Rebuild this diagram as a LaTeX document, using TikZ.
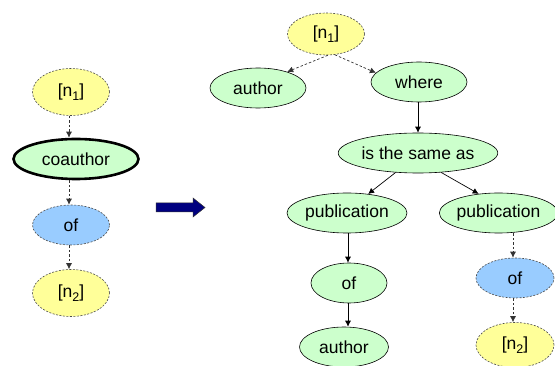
\documentclass[tikz,border=0pt]{standalone}
\usepackage{fontspec}
\setmainfont{Liberation Sans}
\usetikzlibrary{shapes.geometric,arrows.meta}
\definecolor{ylw}{HTML}{FFFF99}
\definecolor{grn}{HTML}{CCFFCC}
\definecolor{blu}{HTML}{99CCFF}
\definecolor{navyc}{HTML}{000080}
\newcommand{\subidx}[1]{\raisebox{-3.5pt}{\fontsize{12.5}{14}\selectfont #1}}
\tikzset{
  x=1pt,y=-1pt,
  every node/.style={font=\fontsize{17.5}{20}\selectfont},
  elbase/.style={ellipse,inner sep=0pt},
  yel/.style={elbase,fill=ylw,draw=black!70,dash pattern=on 2pt off 1.5pt,line width=0.6pt},
  blue/.style={elbase,fill=blu,draw=black!70,dash pattern=on 2pt off 1.5pt,line width=0.6pt},
  gr/.style={elbase,fill=grn,draw=black,line width=0.6pt},
  grthick/.style={elbase,fill=grn,draw=black,line width=2.6pt},
  sz/.style 2 args={minimum width=#1pt,minimum height=#2pt},
  solarr/.style={-{Latex[length=6pt,width=6pt]},line width=0.7pt,black},
  dasharr/.style={-{Latex[length=6pt,width=6pt]},line width=0.7pt,black!80,dash pattern=on 2.5pt off 2pt},
}
\begin{document}
\begin{tikzpicture}
\useasboundingbox (0,0) rectangle (555,366);
% left column
\node[yel,sz={77}{47}] (ln1) at (71,92) {[n\subidx{1}]};
\node[grthick,sz={125}{40}] (lco) at (76,159) {coauthor};
\node[blue,sz={77}{40}] (lof) at (71,225) {of};
\node[yel,sz={77}{47}] (ln2) at (71,293) {[n\subidx{2}]};
\draw[dasharr] (ln1.south -| 69,0) -- (lco.north -| 69,0);
\draw[dasharr] (lco.south -| 69,0) -- (lof.north -| 69,0);
\draw[dasharr] (lof.south -| 69,0) -- (ln2.north -| 69,0);
% block arrow
\fill[navyc,draw=black!80,line width=0.5pt] (156,203) -- (193,203) -- (193,198) -- (205,207.5) -- (193,217) -- (193,212) -- (156,212) -- cycle;
% right tree
\node[yel,sz={77}{42}] (rn1) at (326,34) {[n\subidx{1}]};
\node[gr,sz={96}{40}] (aut) at (258,88) {author};
\node[gr,sz={96}{40}] (whr) at (419,82) {where};
\node[gr,sz={142}{40}] (same) at (418,153) {is the same as};
\node[gr,sz={120}{40}] (publ) at (347,213) {publication};
\node[gr,sz={104}{40}] (pubr) at (498.5,213) {publication};
\node[gr,sz={76}{40}] (ofl) at (349,283) {of};
\node[gr,sz={89}{40}] (autb) at (344,347) {author};
\node[blue,sz={78}{40}] (ofr) at (515,278) {of};
\node[yel,sz={78}{45}] (rn2) at (515,345) {[n\subidx{2}]};
\draw[dasharr] (rn1.-85) -- (aut.29);
\draw[dasharr] (rn1.-67) -- (whr.168);
\draw[solarr] (whr.south -| 418,0) -- (same.north -| 418,0);
\draw[solarr] (same.-139) -- (publ.42);
\draw[solarr] (same.-40) -- (pubr.136);
\draw[solarr] (publ.south -| 348,0) -- (ofl.north -| 348,0);
\draw[solarr] (ofl.south -| 348,0) -- (autb.north -| 348,0);
\draw[dasharr] (pubr.south -| 513,0) -- (ofr.north -| 513,0);
\draw[dasharr] (ofr.south -| 513,0) -- (rn2.north -| 513,0);
\end{tikzpicture}
\end{document}
